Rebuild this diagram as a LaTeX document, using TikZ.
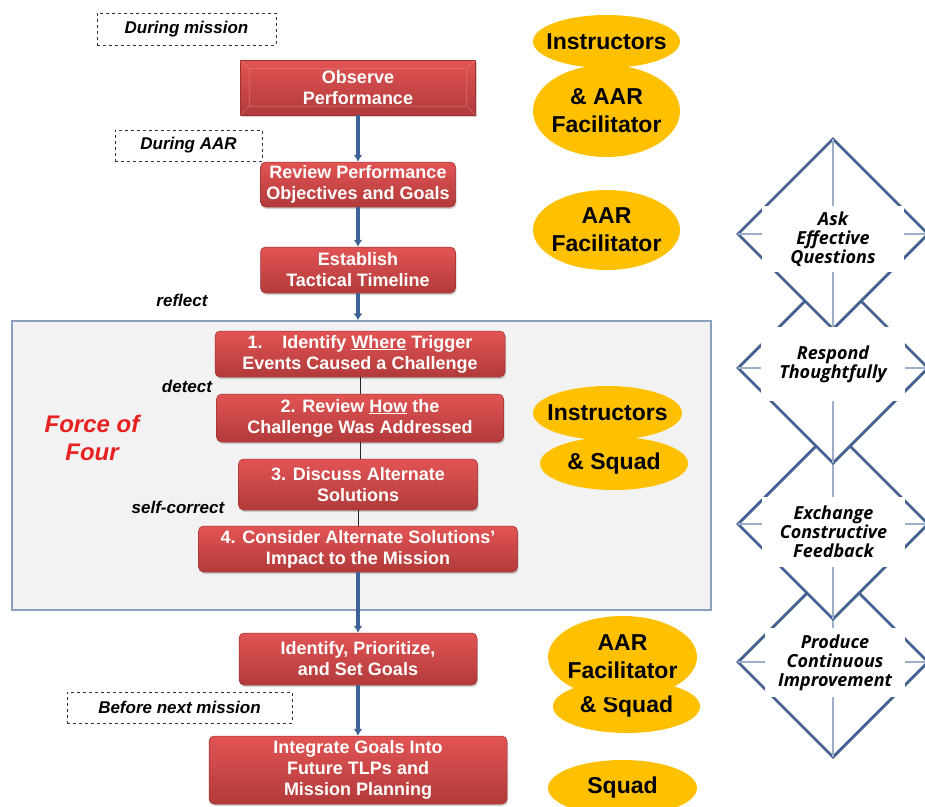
\documentclass[tikz,border=0pt]{standalone}
\usepackage{fontspec}
\setmainfont{Liberation Sans}
\newfontfamily\diafont{Open Sans}
\usetikzlibrary{shapes.geometric,shadows,arrows.meta,positioning}

\definecolor{boxtop}{HTML}{E25454}
\definecolor{boxbot}{HTML}{B23A3A}
\definecolor{boxedge}{HTML}{9E3030}
\definecolor{gold}{HTML}{FFC000}
\definecolor{flowblue}{HTML}{3C6298}
\definecolor{panelfill}{HTML}{F2F2F2}
\definecolor{paneledge}{HTML}{8BA0BE}
\definecolor{diaedge}{HTML}{43628F}
\definecolor{diacross}{HTML}{9CAEC8}
\definecolor{forcered}{HTML}{E82020}

\tikzset{
  stepbox/.style={draw=boxedge, line width=0.5pt, rounded corners=5pt,
    top color=boxtop, bottom color=boxbot, text=white, align=center,
    font=\bfseries\fontsize{18}{21}\selectfont, inner sep=0pt,
    drop shadow={opacity=0.35, shadow xshift=1pt, shadow yshift=-2pt}},
  whenbox/.style={draw=black!80, dashed, line width=0.8pt, inner sep=0pt,
    font=\bfseries\itshape\fontsize{17}{20}\selectfont},
  who/.style={ellipse, fill=gold, inner sep=0pt},
  whotext/.style={align=center, font=\bfseries\fontsize{23}{28}\selectfont},
  verb/.style={font=\bfseries\itshape\fontsize{17}{20}\selectfont},
  flow/.style={-{Latex[length=7pt,width=9pt]}, draw=flowblue, line width=4pt},
  stepline/.style={draw=black!85, line width=1pt},
  skill/.style={fill=white, inner sep=0pt, align=center,
    font=\diafont\bfseries\itshape\fontsize{18}{19}\selectfont}
}

\begin{document}
\begin{tikzpicture}[x=1pt,y=-1pt]
        \useasboundingbox (0,0) rectangle (925,806);

        % the grey panel round the four steps
        \node[draw=paneledge, fill=panelfill, line width=1.2pt, inner sep=0pt,
              minimum width=699pt, minimum height=289pt] (panel) at (361.5,465.5) {};

        % the dashed time boxes
        \node[whenbox, minimum width=179pt, minimum height=32pt] (mission) at (186.5,29) {During mission};
        \node[whenbox, minimum width=147pt, minimum height=31pt] (aar) at (188.5,145.5) {During AAR};
        \node[whenbox, minimum width=225pt, minimum height=31pt] (next) at (179.5,707.5) {Before next mission};

        % the steps
        \node[stepbox, rounded corners=0pt, minimum width=235pt, minimum height=55pt] (obs) at (358,87.5) {Observe\\Performance};
        \draw[boxtop!55!white, line width=0.6pt, opacity=0.45]
              ([shift={(9,9)}]obs.north west) rectangle ([shift={(-9,-9)}]obs.south east)
              (obs.north west) -- ++(9,9) (obs.north east) -- ++(-9,9)
              (obs.south west) -- ++(9,-9) (obs.south east) -- ++(-9,-9);
        \node[stepbox, minimum width=195pt, minimum height=45pt] (rev) at (358,184.5) {Review Performance\\Objectives and Goals};
        \node[stepbox, minimum width=195pt, minimum height=46pt] (est) at (358,270) {Establish\\Tactical Timeline};
        \node[stepbox, minimum width=290pt, minimum height=46pt] (s1) at (360,354) {1.\hspace{1.1em}Identify \underline{Where} Trigger\\Events Caused a Challenge};
        \node[stepbox, minimum width=287pt, minimum height=48pt] (s2) at (360,418) {2. Review \underline{How} the\\Challenge Was Addressed};
        \node[stepbox, minimum width=239pt, minimum height=51pt] (s3) at (358,484.5) {3. Discuss Alternate\\Solutions};
        \node[stepbox, minimum width=319pt, minimum height=46pt] (s4) at (358,549) {4. Consider Alternate Solutions’\\Impact to the Mission};
        \node[stepbox, minimum width=238pt, minimum height=52pt] (goals) at (358,659) {Identify, Prioritize,\\and Set Goals};
        \node[stepbox, minimum width=298pt, minimum height=68pt] (integ) at (358,770) {Integrate Goals Into\\Future TLPs and\\Mission Planning};

        % the verbs beside the column
        \node[verb] (reflect) at (182,300) {reflect};
        \node[verb] (detect) at (187,386) {detect};
        \node[verb] (selfcorr) at (178,507) {self-correct};
        \node[font=\bfseries\itshape\fontsize{24}{28}\selectfont, text=forcered, align=center] (force) at (92,438) {Force of\\Four};

        % the connectors
        \coordinate (ptop) at (est.south |- panel.north);
        \draw[flow] (obs) -- (rev);
        \draw[flow] (rev) -- (est);
        \draw[flow] (est) -- (ptop);
        \foreach \a/\b in {s1/s2,s2/s3,s3/s4}
                \draw[stepline] (\a.south) -- (\b.north -| \a.south);
        \draw[flow] (s4) -- (goals);
        \draw[flow] (goals) -- (integ);

        % who does it
        \node[who, minimum width=147pt, minimum height=92pt, label={[whotext]center:\& AAR\\Facilitator}] (facil) at (606.5,111) {};
        \node[who, minimum width=147pt, minimum height=53pt, label={[whotext]center:Instructors}] (instr) at (606.5,41.5) {};
        \node[who, minimum width=147pt, minimum height=80pt, label={[whotext]center:AAR\\Facilitator}] (aarfac) at (606.5,230) {};
        \node[who, minimum width=148pt, minimum height=53pt, label={[whotext]center:\& Squad}] (squad) at (614,463.5) {};
        \node[who, minimum width=149pt, minimum height=54pt, label={[whotext]center:Instructors}] (instrsq) at (607.5,413) {};
        \node[who, minimum width=147pt, minimum height=53pt, label={[whotext]center:\& Squad}] (squadb) at (626.5,706.5) {};
        \node[who, minimum width=149pt, minimum height=82pt, label={[whotext]center:AAR\\Facilitator}] (aarfacb) at (622.5,657) {};
        \node[who, minimum width=149pt, minimum height=56pt, label={[whotext]center:Squad}] (squadc) at (622.5,788) {};

        % the chain of diamonds, lowest first
        \foreach \y in {662,524,368,234} {
                \filldraw[fill=white, draw=diaedge, line width=2.8pt]
                        (833,\y-95) -- (928,\y) -- (833,\y+95) -- (738,\y) -- cycle;
                \draw[diacross, line width=1.3pt] (738,\y) -- (928,\y) (833,\y-95) -- (833,\y+95);
        }
        \node[skill, minimum width=142pt, minimum height=66pt] (ask) at (833,239) {Ask\\Effective\\Questions};
        \node[skill, minimum width=144pt, minimum height=74pt] (respond) at (833,364) {Respond\\Thoughtfully};
        \node[skill, minimum width=143pt, minimum height=70pt] (exchange) at (833.5,532) {Exchange\\Constructive\\Feedback};
        \node[skill, minimum width=140pt, minimum height=69pt] (produce) at (835,662.5) {Produce\\Continuous\\Improvement};
\end{tikzpicture}
\end{document}
